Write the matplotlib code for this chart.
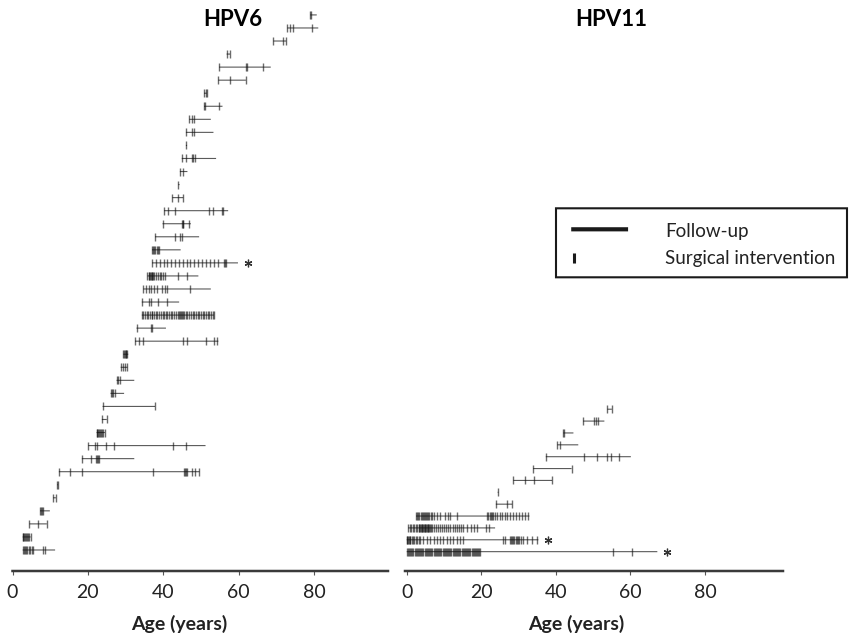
import matplotlib.pyplot as plt
from matplotlib.patches import Rectangle
from matplotlib.lines import Line2D

plt.rcParams['font.family'] = ['Lato', 'DejaVu Sans']
plt.rcParams['path.snap'] = False

# HPV6 patients, bottom row first: age at end of follow-up, ages at surgery
hpv6_end = [11.3, 4.8, 9.1, 9.9, 11.5, 12.1, 49.6, 32.3, 51.2, 24.5,
            25.0, 37.8, 29.6, 32.3, 30.5, 30.7, 54.6, 40.7, 53.4, 44.2,
            52.6, 49.3, 59.8, 44.6, 49.5, 47.3, 57.2, 45.3, 44.3, 46.4,
            54.0, 46.3, 53.3, 52.6, 55.7, 51.5, 61.9, 68.5, 57.7, 72.6,
            81.1, 80.7]
hpv6_surgery = [
    [2.7, 3.0, 3.3, 3.6, 3.9, 4.3, 4.7, 5.1, 5.5, 8.0, 8.6],
    [2.7, 2.9, 3.1, 3.3, 3.6, 3.9, 4.2, 4.5, 4.8],
    [4.5, 6.7, 9.1],
    [7.3, 7.5, 7.7, 8.0],
    [10.8, 11.5],
    [11.9, 12.1],
    [12.3, 15.3, 18.4, 37.3, 45.6, 45.8, 46.0, 46.2, 47.5, 48.4, 49.5],
    [18.4, 20.7, 22.1, 22.4, 22.7, 23.0],
    [20.1, 21.9, 22.3, 24.8, 27.0, 42.5, 46.0],
    [22.3, 22.5, 22.7, 22.9, 23.1, 23.4, 23.7, 24.1, 24.5],
    [23.7, 25.0],
    [23.9, 37.8],
    [26.0, 26.3, 26.6, 27.2],
    [27.6, 27.9, 28.5],
    [28.7, 29.2, 29.8, 30.3],
    [29.4, 29.6, 29.8, 30.0, 30.2, 30.4],
    [32.5, 33.6, 34.5, 45.1, 46.4, 51.3, 53.4, 54.3],
    [32.9, 36.7, 36.9],
    [34.3, 34.7, 35.2, 35.6, 36.0, 36.5, 36.9, 37.1, 37.5, 38.0, 38.4, 38.9,
     39.3, 39.8, 40.2, 40.7, 41.1, 41.6, 42.0, 42.4, 42.9, 43.3, 43.8, 44.2,
     44.4, 44.6, 44.9, 45.1, 45.5, 46.0, 46.4, 46.9, 47.3, 47.8, 48.2, 48.7,
     49.1, 49.6, 50.0, 50.4, 50.9, 51.3, 51.8, 52.2, 52.6, 53.1, 53.4],
    [34.3, 36.3, 36.7, 38.7, 41.1],
    [34.7, 35.4, 36.1, 36.8, 37.5, 38.2, 39.7, 40.4, 40.9, 47.1],
    [35.8, 36.1, 36.3, 36.5, 36.7, 36.9, 37.1, 37.3, 37.6, 38.0, 38.5, 39.0,
     39.5, 40.0, 40.4, 44.0, 46.4],
    [37.0, 38.0, 39.1, 40.1, 41.1, 42.1, 43.1, 44.2, 45.2, 46.2, 47.2, 48.2,
     49.3, 50.3, 51.3, 52.3, 53.4, 54.4, 56.1, 56.3, 56.5],
    [37.0, 37.3, 37.6, 37.9, 38.2, 38.5, 38.9],
    [37.8, 43.1, 44.4, 44.9],
    [39.8, 44.9, 45.1, 45.3, 46.9],
    [40.2, 41.3, 43.1, 52.2, 53.3, 55.5, 55.9],
    [42.4, 44.0, 45.3],
    [44.0],
    [44.4, 45.1],
    [44.9, 46.0, 47.5, 48.0, 48.4],
    [46.0],
    [46.0, 47.5, 48.1],
    [46.9, 47.5, 48.1],
    [50.8, 51.1, 54.9],
    [50.8, 51.2, 51.5],
    [54.6, 57.7, 61.9],
    [54.8, 62.0, 62.2, 66.4],
    [56.8, 57.7],
    [69.2, 71.7, 72.6],
    [72.9, 73.6, 74.3, 79.4],
    [79.0, 79.2],
]
hpv6_star = [22]

# HPV11 patients, bottom row first
hpv11_end = [67.2, 35.3, 23.7, 32.9, 28.3, 24.6, 39.0, 44.2, 60.1, 46.0,
             44.7, 53.0, 55.0]
hpv11_surgery = [
    [0.0, 0.3, 0.6, 0.9, 1.2, 1.5, 1.8, 2.1, 2.4, 2.7, 3.0, 3.3, 3.6, 3.9,
     4.2, 4.5, 4.8, 5.1, 5.4, 5.7, 6.0, 6.3, 6.6, 6.9, 7.2, 7.5, 7.8, 8.1,
     8.4, 8.7, 9.0, 9.3, 9.6, 9.9, 10.2, 10.5, 10.8, 11.1, 11.4, 11.7, 12.0,
     12.3, 12.6, 12.9, 13.2, 13.5, 13.8, 14.1, 14.4, 14.7, 15.0, 15.3, 15.6,
     15.9, 16.2, 16.5, 16.8, 17.1, 17.4, 17.7, 18.0, 18.3, 18.6, 18.9, 19.2,
     19.5, 19.7, 55.4, 60.5],
    [0.0, 0.2, 0.4, 0.6, 0.8, 1.0, 1.3, 1.6, 2.0, 2.4, 2.8, 3.2, 3.6, 4.5,
     5.4, 6.3, 7.2, 8.1, 8.9, 9.8, 10.7, 11.6, 12.5, 13.4, 14.3, 15.2, 25.9,
     26.4, 27.7, 28.0, 28.3, 28.6, 28.9, 29.2, 29.5, 29.8, 30.2, 30.6, 31.3,
     32.2, 33.5, 34.9],
    [0.4, 0.8, 1.2, 1.6, 2.0, 2.4, 2.8, 3.2, 3.4, 3.6, 3.8, 4.0, 4.2, 4.4,
     4.6, 4.8, 5.0, 5.2, 5.4, 5.6, 5.8, 6.0, 6.2, 6.5, 6.8, 7.2, 7.8, 8.3,
     8.9, 9.5, 10.0, 10.6, 11.1, 11.7, 12.3, 12.9, 13.5, 14.0, 14.6, 15.2,
     16.1, 17.2, 18.0, 18.9, 21.3, 22.1],
    [2.5, 2.8, 3.1, 3.4, 3.7, 4.0, 4.3, 4.6, 4.9, 5.2, 5.5, 5.8, 6.1, 6.5,
     6.9, 7.3, 8.0, 8.9, 10.3, 11.2, 11.6, 13.4, 21.6, 21.9, 22.2, 22.5,
     22.8, 23.2, 23.7, 24.3, 24.9, 25.6, 26.3, 27.0, 27.8, 28.5, 29.3, 30.1,
     30.9, 31.7, 32.6],
    [23.9, 26.8, 28.3],
    [24.4],
    [28.6, 31.6, 34.0, 39.0],
    [33.9, 44.2],
    [37.3, 47.6, 50.9, 53.6, 54.8, 56.8],
    [40.4, 41.0],
    [42.0, 42.2],
    [47.3, 50.2, 50.8, 51.4],
    [53.8, 55.0],
]
hpv11_star = [0, 1]

W, H = 849, 639


def draw_panel(ax, ends, surgeries, starred, title, title_x, label_x):
    for i, (end, ages) in enumerate(zip(ends, surgeries)):
        ax.hlines(i, ages[0], end, color='#5a5a5a', lw=0.8)
        ax.plot(ages, [i] * len(ages), ls='none', marker='|', ms=6,
                mew=1.0, color='#111111', alpha=0.62)
    for i in starred:
        ax.plot(ends[i] + 2.7, i, ls='none', marker=(6, 2, 0), ms=5.5,
                mew=0.9, color='#333333')

    for side in ['left', 'top', 'right']:
        ax.spines[side].set_visible(False)
    ax.spines['bottom'].set_linewidth(1.8)
    ax.spines['bottom'].set_color('#3a3a3a')
    ax.set_yticks([])
    ax.set_xticks([0, 20, 40, 60, 80])
    ax.tick_params(axis='x', direction='out', length=3, width=0.8,
                   color='#555555', labelsize=14, pad=6, labelcolor='#222222')

    ax.text(title_x, 1 - 26 / H, title, transform=ax.figure.transFigure,
            ha='center', va='baseline', fontsize=16, fontweight='bold')
    ax.text(label_x, 1 - 630 / H, 'Age (years)', transform=ax.figure.transFigure,
            ha='center', va='baseline', fontsize=14, fontweight='bold',
            color='#222222')


fig = plt.figure(figsize=(W / 100, H / 100), dpi=100)

bottom = (H - 571) / H
height = (571 - 8) / H
ax1 = fig.add_axes([12.5 / W, bottom, 375.5 / W, height])
ax1.set_xlim(0, 99.6)
ax1.set_ylim(-1.61, 41.53)
draw_panel(ax1, hpv6_end, hpv6_surgery, hpv6_star, 'HPV6', 232.5 / W, 179.7 / W)

ax2 = fig.add_axes([405 / W, bottom, 378 / W, height])
ax2.set_xlim(-0.46, 100.9)
ax2.set_ylim(-1.63, 45.8)
draw_panel(ax2, hpv11_end, hpv11_surgery, hpv11_star, 'HPV11', 611 / W, 576.5 / W)

# legend box drawn by hand
fig.patches.append(Rectangle((556 / W, 1 - 277.3 / H), 291 / W, 69 / H,
                             transform=fig.transFigure, fill=False,
                             lw=1.5, ec='#1a1a1a'))
fig.lines.append(Line2D([573.3 / W, 626 / W], [1 - 229.3 / H] * 2,
                        transform=fig.transFigure, lw=3, color='#1a1a1a'))
fig.lines.append(Line2D([574.5 / W] * 2, [1 - 255 / H, 1 - 262 / H],
                        transform=fig.transFigure, lw=2.2, color='#1a1a1a'))
fig.text(665 / W, 1 - 236.7 / H, 'Follow-up', ha='left', va='baseline',
         fontsize=13.5, color='#222222')
fig.text(665 / W, 1 - 264 / H, 'Surgical intervention', ha='left',
         va='baseline', fontsize=13.5, color='#222222')

fig.savefig('out.png', dpi=100)
